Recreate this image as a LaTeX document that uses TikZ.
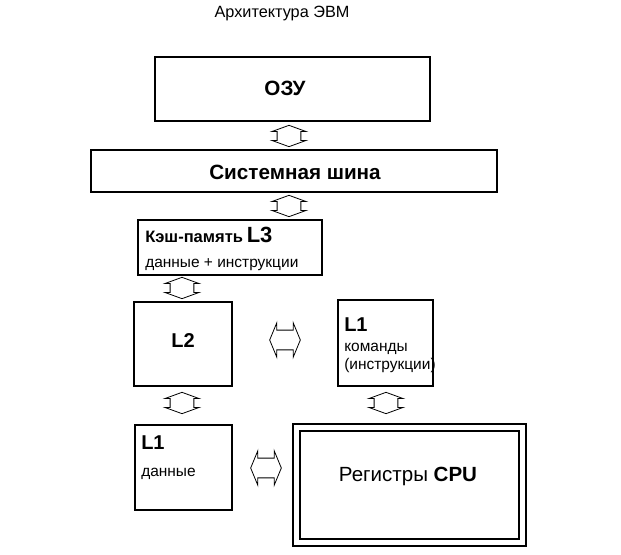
\documentclass[tikz,border=0pt]{standalone}
\usepackage{fontspec}
\setmainfont{Liberation Sans}
\usetikzlibrary{shapes.arrows}

\tikzset{
  blk/.style={draw, line width=0.8pt, inner sep=0pt, outer sep=0pt},
  vlink/.style={double arrow, draw, line width=0.6pt, rotate=90,
    inner xsep=0pt, inner ysep=8.6pt, minimum height=16pt,
    double arrow head extend=3.9pt, double arrow tip angle=140},
  hlink/.style={double arrow, draw, line width=0.6pt,
    inner xsep=0pt, inner ysep=7.1pt, minimum height=23pt,
    double arrow head extend=5.6pt, double arrow tip angle=135},
  big/.style={font=\fontsize{15.5pt}{18pt}\selectfont\bfseries},
  small/.style={font=\fontsize{11.6pt}{14pt}\selectfont},
}

\begin{document}
\begin{tikzpicture}[x=0.75pt, y=-0.75pt]
    \useasboundingbox (0,0) rectangle (621,555);

    \node[font=\fontsize{12.2pt}{14pt}\selectfont] (title) at (282,14) {Архитектура ЭВМ};

    % memory and bus
    \node[blk, minimum width=206.25pt, minimum height=48pt] (ozu) at (292.5,89) {};
    \node[big] (ozutxt) at (285,88) {ОЗУ};
    \node[blk, minimum width=304.5pt, minimum height=31.5pt] (bus) at (294,171) {};
    \node[big] (bustxt) at (295,172) {Системная шина};
    \node[vlink] (a1) at (289,136) {};
    \node[vlink] (a2) at (289,206) {};

    % cache levels
    \node[blk, minimum width=138pt, minimum height=41.25pt] (l3) at (230,247.5) {};
    \node[anchor=base west, font=\bfseries, inner sep=0pt] (l3txt) at (145,243)
        {{\fontsize{12.4pt}{14pt}\selectfont Кэш-память} {\fontsize{16.5pt}{18pt}\selectfont L3}};
    \node[small, anchor=base west, inner sep=0pt] (l3sub) at (145,268) {данные + инструкции};
    \node[vlink] (a3) at (182,288) {};

    \node[blk, minimum width=73.5pt, minimum height=63pt] (l2) at (183,344) {};
    \node[font=\fontsize{15pt}{18pt}\selectfont\bfseries] (l2txt) at (183,341) {L2};
    \node[hlink] (a4) at (285,340) {};

    \node[blk, minimum width=71.25pt, minimum height=64.5pt] (l1i) at (385.5,343) {};
    \node[anchor=base west, inner sep=0pt, font=\fontsize{15pt}{18pt}\selectfont\bfseries] (l1itxt) at (344,332) {L1};
    \node[small, anchor=base west, inner sep=0pt] (l1isub) at (344,352) {команды};
    \node[small, anchor=base west, inner sep=0pt] (l1isub2) at (344,370) {(инструкции)};
    \node[vlink] (a5) at (386,403) {};
    \node[vlink] (a6) at (182,403) {};

    \node[blk, minimum width=72.75pt, minimum height=63.75pt] (l1d) at (183.5,467.5) {};
    \node[anchor=base west, inner sep=0pt, font=\fontsize{15pt}{18pt}\selectfont\bfseries] (l1dtxt) at (141,450) {L1};
    \node[small, anchor=base west, inner sep=0pt] (l1dsub) at (141,477) {данные};
    \node[hlink] (a7) at (266,468) {};

    % processor
    \node[blk, minimum width=174.75pt, minimum height=91.5pt] (cpu) at (409.5,485) {};
    \node[blk, minimum width=164.25pt, minimum height=81pt] (cpuin) at (409.5,485) {};
    \node[font=\fontsize{15.4pt}{18pt}\selectfont] (cputxt) at (408,476) {Регистры \textbf{CPU}};
\end{tikzpicture}
\end{document}
